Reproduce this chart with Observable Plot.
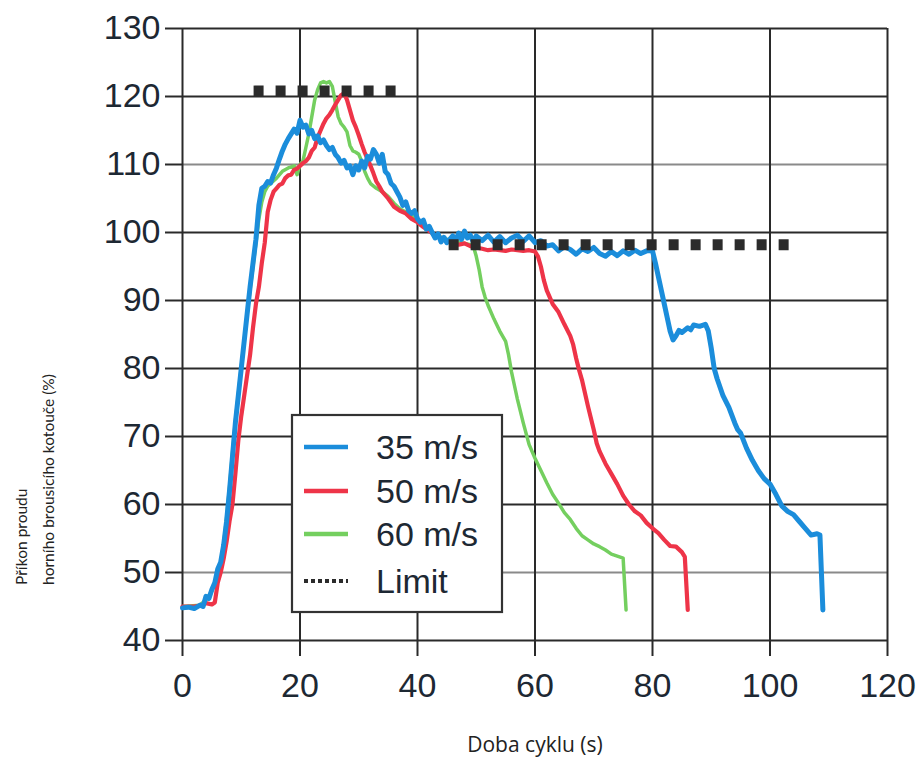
<!DOCTYPE html>
<html>
<head>
<meta charset="utf-8">
<script src="https://cdn.jsdelivr.net/npm/d3@7"></script>
<script src="https://cdn.jsdelivr.net/npm/@observablehq/plot@0.6"></script>
<style>
  html, body { margin: 0; padding: 0; background: #ffffff; }
  #chart { width: 916px; height: 758px; position: relative; }
</style>
</head>
<body>
<div id="chart"></div>
<script>
// ---- tick labels ----
const xTicks = [0, 20, 40, 60, 80, 100, 120];
const yTicksDark = [40, 60, 70, 80, 90, 100, 120, 130];
const yTicksGray = [50, 110];
const yTicks = [40, 50, 60, 70, 80, 90, 100, 110, 120, 130];

// ---- series names ----
const seriesNames = ["35 m/s", "50 m/s", "60 m/s", "Limit"];

// ---- 35 m/s (time s, power %) ----
const t35 = [0, 1, 2, 3, 3.5, 4, 4.5, 5, 5.5, 6, 6.5, 7, 7.5, 8, 8.5, 9, 9.5, 10, 10.5, 11, 11.5, 12, 12.5, 13, 13.5, 14, 14.5, 15, 15.5, 16, 16.5, 17, 17.5, 18, 18.5, 19, 19.5, 20, 20.5, 21, 21.5, 22, 22.5, 23, 23.5, 24, 24.5, 25, 25.5, 26, 26.5, 27, 27.5, 28, 28.5, 29, 29.5, 30, 30.5, 31, 31.5, 32, 32.5, 33, 33.5, 34, 34.5, 35, 35.5, 36, 36.5, 37, 37.5, 38, 38.5, 39, 39.5, 40, 40.5, 41, 41.5, 42, 42.5, 43, 43.5, 44, 44.5, 45, 46, 46.5, 47, 47.5, 48, 48.5, 49, 49.5, 50, 51, 52, 53, 54, 55, 56, 57, 58, 59, 60, 61, 62, 63, 64, 65, 66, 67, 68, 69, 70, 71, 72, 73, 74, 75, 76, 77, 78, 79, 80, 80.5, 81, 81.5, 82, 82.5, 83, 83.5, 84, 84.5, 85, 86, 86.5, 87, 88, 89, 89.5, 90, 90.5, 91, 92, 93, 94, 94.5, 95, 96, 97, 98, 99, 100, 101, 102, 103, 104, 105, 106, 107, 108, 108.5, 109];
const p35 = [44.8, 44.9, 44.7, 45.2, 45.0, 46.5, 46.2, 47.5, 48.5, 50.5, 51.5, 54, 57.5, 62, 67, 72, 76, 80, 84, 88, 92, 95.5, 99, 104, 106.5, 106.8, 107.5, 107.3, 108.5, 109.5, 110.8, 112, 113, 113.8, 114.5, 115.2, 114.6, 116.5, 115.5, 115.8, 114.5, 115, 113.8, 114.2, 113.2, 113.6, 112.8, 112.2, 112.5, 111.5, 111, 110.2, 110.6, 109.5, 109.8, 108.5, 109.8, 109.2, 110.5, 109.5, 111.2, 110.8, 112.2, 111.5, 110.2, 111.5, 109, 108.5, 107.2, 106.8, 106, 105.2, 104, 104.5, 103.2, 102.8, 103.2, 102, 101.5, 101.8, 100.5, 100.9, 100, 99.2, 99.8, 98.6, 99.3, 98.5, 99.5, 98.8, 99.9, 99, 100.2, 99.2, 99.6, 98.6, 99.5, 98.8, 99.6, 98.6, 99.4, 98.5, 99.2, 99.6, 98.7, 99.5, 98.5, 98.8, 98, 98.2, 97.3, 97.9, 97.5, 96.8, 97.6, 97.2, 97.8, 96.9, 96.5, 97.2, 96.6, 97.3, 96.8, 97.4, 96.9, 97.3, 97.3, 95.5, 93.5, 91.5, 89.5, 87.5, 85.5, 84.2, 84.8, 85.6, 85.3, 86, 85.7, 86.4, 86.2, 86.5, 85.5, 83, 80, 78.5, 76, 74.3, 72, 71, 70.5, 68.3, 66.5, 65, 63.8, 63, 61.5, 59.8, 59, 58.5, 57.5, 56.5, 55.5, 55.7, 55.5, 44.5];

// ---- 50 m/s ----
const t50 = [0, 2, 3.5, 4, 5, 5.5, 6, 6.5, 7, 7.5, 8, 8.5, 9, 9.5, 10, 10.5, 11, 11.5, 12, 12.5, 13, 13.5, 14, 14.5, 15, 15.5, 16, 16.5, 17, 17.5, 18, 18.5, 19, 19.5, 20, 20.5, 21, 21.5, 22, 22.5, 23, 23.5, 24, 24.5, 25, 25.5, 26, 26.5, 27, 27.5, 28, 28.5, 29, 29.5, 30, 30.5, 31, 31.5, 32, 32.5, 33, 33.5, 34, 35, 36, 37, 38, 39, 40, 41, 42, 43, 44, 45, 46, 47, 48, 49, 50, 51, 52, 53, 54, 55, 56, 57, 58, 59, 60, 60.5, 61, 61.5, 62, 62.5, 63, 64, 65, 66, 66.5, 67, 67.5, 68, 69, 70, 70.5, 71, 72, 73, 74, 75, 76, 77, 78, 79, 80, 81, 82, 83, 84, 85, 85.5, 86];
const p50 = [45, 45, 45.2, 45.5, 45.3, 45.6, 48.5, 50, 52, 54.5, 57.5, 60, 64.5, 69.4, 73, 76, 79, 82, 86, 89.5, 92, 95.5, 98.5, 103, 104.8, 106, 106.5, 107, 107.2, 108, 108.4, 108.5, 109.2, 109.4, 109.8, 110.2, 110.5, 111, 112, 112.5, 114, 115, 116, 116.8, 117.3, 118, 118.8, 119.5, 120.2, 120.5, 119.5, 118, 116.5, 115.5, 114.3, 113, 111.8, 110.8, 109.8, 108.7, 107.5, 106.8, 106, 105, 103.8, 103.2, 102.8, 102, 101.5, 100.8, 100.2, 99.6, 99.2, 98.8, 98.5, 98.2, 98.4, 98, 97.8, 97.6, 97.4, 97.5, 97.4, 97.3, 97.5, 97.4, 97.3, 97.4, 97.2, 96.5, 95, 93, 91.5, 90.5, 89.5, 88.3, 86.5, 84.8, 83.5, 81.5, 79.8, 78.3, 74.5, 71, 69, 67.8, 66, 64.5, 63, 61.3, 60, 59, 58.4, 57.3, 56.5, 55.8, 54.8, 53.9, 53.8, 53, 52.3, 44.5];

// ---- 60 m/s ----
const t60 = [0, 3, 4, 5, 5.5, 6, 6.5, 7, 7.5, 8, 8.5, 9, 9.5, 10, 10.5, 11, 11.5, 12, 12.5, 13, 13.5, 14, 14.5, 15, 16, 17, 18, 19, 19.5, 20, 20.5, 21, 21.5, 22, 22.5, 23, 23.5, 24, 24.5, 25, 25.5, 26, 26.5, 27, 27.5, 28, 28.5, 29, 29.5, 30, 30.5, 31, 31.5, 32, 33, 34, 35, 36, 37, 38, 39, 40, 41, 42, 43, 44, 45, 46, 47, 48, 49, 49.5, 50, 50.5, 51, 51.5, 52, 53, 54, 55, 55.5, 56, 56.5, 57, 58, 59, 60, 61, 62, 63, 64, 65, 66, 67, 68, 69, 70, 71, 72, 73, 74, 75, 75.5];
const p60 = [45, 45.2, 46, 47.3, 48.5, 50.3, 51.5, 54.2, 58, 62.5, 67.5, 72.3, 76.2, 80.2, 84, 88, 91.5, 95, 98.5, 102, 104.5, 106, 106.8, 107.2, 108, 109, 109.5, 109.8, 108.5, 110, 110.5, 112.5, 114.5, 117, 119.5, 121, 122, 122.2, 122, 122.2, 121.5, 119.2, 117, 116, 115.5, 114.8, 112.8, 112, 111.8, 111.5, 110.5, 109, 108, 107.2, 106.5, 106, 105.3, 104.3, 103.5, 103, 102.5, 101.8, 101, 100.3, 99.6, 99.3, 99, 98.8, 98.6, 98.4, 98.2, 98, 96.5, 94.5, 92, 90.5, 89.3, 87.3, 85.5, 84, 82, 79.5, 77.5, 75.5, 72, 68.8, 66.8, 65, 63.2, 61.5, 60.2, 58.8, 57.8, 56.5, 55.4, 54.8, 54.2, 53.8, 53.3, 52.7, 52.4, 52.1, 44.5];

// ---- Limit segments ----
const limitA_t = [12.1, 36.3];
const limitA_p = [120.8, 120.8];
const limitB_t = [45.3, 103.6];
const limitB_p = [98.2, 98.2];

// ---- colours ----
const colors = ["#1b8ddb", "#ee3448", "#74cf5f", "#2b2b2b"];

const toRows = (ts, ps) => ts.map((t, i) => ({t, p: ps[i]}));
const d35 = toRows(t35, p35);
const d50 = toRows(t50, p50);
const d60 = toRows(t60, p60);
const dLimA = toRows(limitA_t, limitA_p);
const dLimB = toRows(limitB_t, limitB_p);

const gridDark = "#2a2a2a";
const gridGray = "#8a8a8a";
const tickFont = "'Liberation Sans', Arial, sans-serif";
const labelColor = "#1d2833";

const chart = Plot.plot({
  width: 916,
  height: 758,
  marginLeft: 182,
  marginRight: 29,
  marginTop: 28,
  marginBottom: 118,
  style: {fontFamily: tickFont, background: "#ffffff", color: labelColor, overflow: "visible"},
  x: {domain: [0, 120]},
  y: {domain: [40, 130]},
  marks: [
    Plot.gridY(yTicksDark, {stroke: gridDark, strokeOpacity: 1, strokeWidth: 2}),
    Plot.gridY(yTicksGray, {stroke: gridGray, strokeOpacity: 1, strokeWidth: 2}),
    Plot.gridX(xTicks, {stroke: gridDark, strokeOpacity: 1, strokeWidth: 2}),
    Plot.axisY(yTicks, {tickSize: 17, tickPadding: 5, stroke: gridDark, strokeWidth: 2, fontSize: 34, fill: labelColor, label: null}),
    Plot.axisX(xTicks, {tickSize: 16, tickPadding: 16, stroke: gridDark, strokeWidth: 2, fontSize: 34, fill: labelColor, label: null}),
    Plot.line(d60, {x: "t", y: "p", stroke: colors[2], strokeWidth: 3.5, strokeLinejoin: "round"}),
    Plot.line(d50, {x: "t", y: "p", stroke: colors[1], strokeWidth: 4.2, strokeLinejoin: "round"}),
    Plot.line(d35, {x: "t", y: "p", stroke: colors[0], strokeWidth: 5, strokeLinejoin: "round"}),
    Plot.line(dLimA, {x: "t", y: "p", stroke: colors[3], strokeWidth: 11, strokeDasharray: "10,12", strokeLinecap: "butt"}),
    Plot.line(dLimB, {x: "t", y: "p", stroke: colors[3], strokeWidth: 11, strokeDasharray: "10,12", strokeLinecap: "butt"})
  ]
});

document.getElementById("chart").appendChild(chart);

// ---- axis titles and legend (text & decoration) ----
const svg = d3.select(chart);
const yTitleFont = "Lato, 'Open Sans', sans-serif";
const xTitleFont = "'Open Sans', 'Noto Sans', sans-serif";
const yTitles = ["Příkon proudu", "horního brousicího kotouče (%)"];
const yTitleX = [27, 54];
yTitles.forEach((s, i) => {
  svg.append("text")
    .attr("transform", `translate(${yTitleX[i]},585) rotate(-90)`)
    .attr("text-anchor", "start")
    .attr("font-family", yTitleFont)
    .attr("font-size", 15.5)
    .attr("fill", "#222")
    .text(s);
});
svg.append("text")
  .attr("x", 535).attr("y", 752)
  .attr("text-anchor", "middle")
  .attr("font-family", xTitleFont)
  .attr("font-size", 21)
  .attr("fill", "#222")
  .text("Doba cyklu (s)");

// legend
const lg = svg.append("g").attr("transform", "translate(292,415)");
lg.append("rect").attr("width", 210).attr("height", 197)
  .attr("fill", "#ffffff").attr("stroke", "#333").attr("stroke-width", 2.2);
const rowY = [32, 76, 119, 166];
seriesNames.forEach((name, i) => {
  const y = rowY[i];
  lg.append("line")
    .attr("x1", 12).attr("x2", 56).attr("y1", y).attr("y2", y)
    .attr("stroke", colors[i])
    .attr("stroke-width", i === 3 ? 4 : 4.5)
    .attr("stroke-dasharray", i === 3 ? "4,3" : null);
  lg.append("text")
    .attr("x", 84).attr("y", y)
    .attr("dy", "0.36em")
    .attr("text-anchor", "start")
    .attr("font-family", tickFont)
    .attr("font-size", 34)
    .attr("fill", labelColor)
    .text(name);
});
</script>
</body>
</html>
